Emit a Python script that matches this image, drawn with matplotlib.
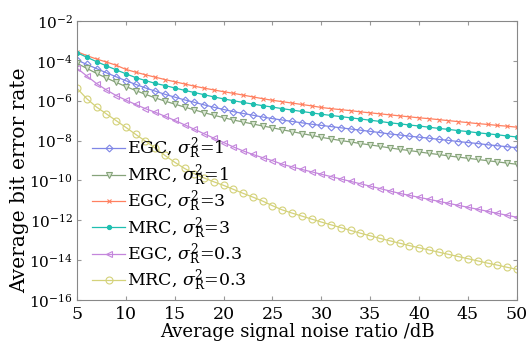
import numpy as np
import matplotlib
matplotlib.use('Agg')
import matplotlib.pyplot as plt

# SNR axis (dB) and log10 of the bit error rate
snr = list(range(5, 51))

egc_1 = [-3.96, -4.18, -4.39, -4.60, -4.80, -5.00, -5.18, -5.36, -5.52, -5.68,
         -5.82, -5.96, -6.08, -6.21, -6.33, -6.44, -6.55, -6.64, -6.73, -6.82,
         -6.90, -6.97, -7.04, -7.11, -7.18, -7.24, -7.30, -7.36, -7.42, -7.48,
         -7.54, -7.60, -7.67, -7.72, -7.78, -7.83, -7.88, -7.94, -7.99, -8.05,
         -8.10, -8.15, -8.21, -8.26, -8.31, -8.36]
mrc_1 = [-4.12, -4.38, -4.63, -4.86, -5.08, -5.29, -5.49, -5.68, -5.86, -6.02,
         -6.17, -6.32, -6.46, -6.60, -6.73, -6.85, -6.97, -7.07, -7.17, -7.27,
         -7.36, -7.46, -7.55, -7.65, -7.74, -7.84, -7.92, -8.00, -8.07, -8.15,
         -8.22, -8.29, -8.37, -8.44, -8.50, -8.57, -8.64, -8.70, -8.77, -8.83,
         -8.89, -8.95, -9.01, -9.07, -9.13, -9.19]
egc_3 = [-3.54, -3.74, -3.91, -4.06, -4.22, -4.43, -4.57, -4.70, -4.82, -4.94,
         -5.05, -5.16, -5.27, -5.37, -5.46, -5.55, -5.63, -5.72, -5.81, -5.90,
         -5.98, -6.05, -6.12, -6.19, -6.26, -6.34, -6.40, -6.45, -6.50, -6.56,
         -6.61, -6.66, -6.71, -6.76, -6.81, -6.86, -6.90, -6.95, -7.00, -7.05,
         -7.10, -7.15, -7.19, -7.24, -7.28, -7.33]
mrc_3 = [-3.59, -3.82, -4.04, -4.25, -4.45, -4.65, -4.84, -4.99, -5.13, -5.24,
         -5.36, -5.48, -5.59, -5.70, -5.81, -5.91, -6.00, -6.09, -6.17, -6.25,
         -6.32, -6.40, -6.47, -6.54, -6.61, -6.68, -6.74, -6.80, -6.86, -6.92,
         -6.98, -7.04, -7.11, -7.16, -7.22, -7.27, -7.33, -7.39, -7.44, -7.50,
         -7.55, -7.61, -7.66, -7.71, -7.77, -7.82]
egc_03 = [-4.37, -4.76, -5.14, -5.46, -5.74, -5.97, -6.19, -6.40, -6.58, -6.78,
          -6.99, -7.21, -7.43, -7.66, -7.88, -8.10, -8.32, -8.52, -8.70, -8.86,
          -9.01, -9.19, -9.32, -9.45, -9.57, -9.69, -9.81, -9.93, -10.05, -10.17,
          -10.29, -10.41, -10.53, -10.65, -10.75, -10.85, -10.95, -11.05, -11.15, -11.25,
          -11.35, -11.45, -11.55, -11.65, -11.75, -11.85]
mrc_03 = [-5.38, -5.90, -6.32, -6.66, -7.00, -7.34, -7.69, -8.03, -8.38, -8.75,
          -9.09, -9.40, -9.66, -9.88, -10.07, -10.25, -10.45, -10.65, -10.84, -11.04,
          -11.27, -11.48, -11.64, -11.79, -11.94, -12.09, -12.23, -12.37, -12.51, -12.65,
          -12.78, -12.91, -13.03, -13.15, -13.27, -13.38, -13.49, -13.60, -13.71, -13.82,
          -13.93, -14.04, -14.15, -14.25, -14.36, -14.46]

plt.rcParams['font.family'] = ['DejaVu Serif']
plt.rcParams['mathtext.fontset'] = 'dejavuserif'

fig = plt.figure(figsize=(5.29, 3.44), dpi=100)
ax = fig.add_axes([0.1456, 0.128, 0.8314, 0.811])

series = [
    (egc_1, 'EGC, $\\sigma_\\mathrm{R}^2$=1', '#7f86e6', 'D', 'none', 3.5),
    (mrc_1, 'MRC, $\\sigma_\\mathrm{R}^2$=1', '#86a37a', 'v', '#dbe8d4', 5),
    (egc_3, 'EGC, $\\sigma_\\mathrm{R}^2$=3', '#ff8060', 'x', 'none', 3.5),
    (mrc_3, 'MRC, $\\sigma_\\mathrm{R}^2$=3', '#1fbfb0', '.', '#1fbfb0', 6),
    (egc_03, 'EGC, $\\sigma_\\mathrm{R}^2$=0.3', '#c486dc', '<', 'none', 5),
    (mrc_03, 'MRC, $\\sigma_\\mathrm{R}^2$=0.3', '#d4d27a', 'o', 'none', 5),
]
for vals, lab, col, mk, fc, ms in series:
    ax.plot(snr, 10.0 ** np.array(vals), color=col, lw=0.9, marker=mk,
            markerfacecolor=fc, markeredgecolor=col, markersize=ms,
            markeredgewidth=0.8, label=lab)

ax.set_yscale('log')
ax.set_xlim(5, 50)
ax.set_ylim(1e-16, 1e-2)
ax.set_xticks([5, 10, 15, 20, 25, 30, 35, 40, 45, 50])
ax.set_yticks([10.0 ** e for e in range(-16, -1, 2)])
ax.minorticks_off()
ax.tick_params(direction='in', length=3, color='#999999',
               top=True, right=True, pad=4)
ax.tick_params(axis='x', labelsize=12.5)
ax.tick_params(axis='y', labelsize=11, pad=3)
for sp in ax.spines.values():
    sp.set_color('#888888')

ax.set_xlabel('Average signal noise ratio /dB', fontsize=13, labelpad=0)
ax.set_ylabel('Average bit error rate', fontsize=14.5)
ax.yaxis.set_label_coords(-0.11, 0.43)

ax.legend(loc='lower left', frameon=False, fontsize=12.5, handlelength=1.9,
          handletextpad=0.1, labelspacing=0.0, borderaxespad=0.0,
          borderpad=0.0, bbox_to_anchor=(0.035, 0.02))

fig.savefig('out.png', dpi=100)
